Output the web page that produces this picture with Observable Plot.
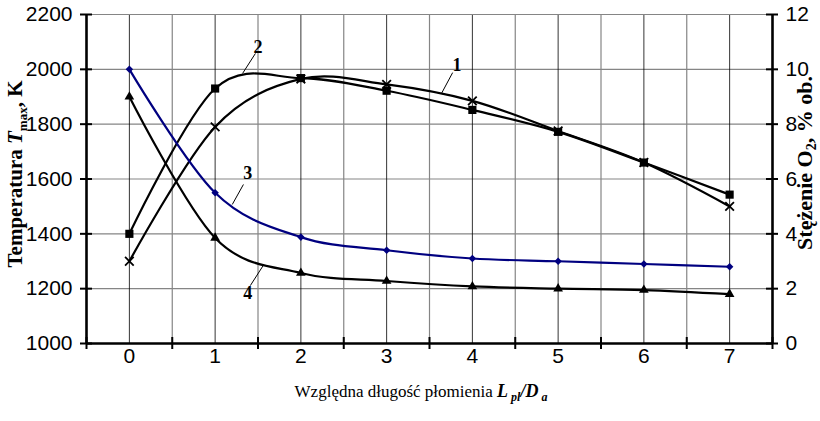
<!DOCTYPE html>
<html><head><meta charset="utf-8">
<script src="https://cdn.jsdelivr.net/npm/d3@7"></script>
<script src="https://cdn.jsdelivr.net/npm/@observablehq/plot@0.6"></script>
<style>body{margin:0;background:#fff} svg{display:block}</style>
</head><body><div id="chart"></div>
<script>
// ---- data ----
const categories = [0, 1, 2, 3, 4, 5, 6, 7];
const xTickLabels = ["0", "1", "2", "3", "4", "5", "6", "7"];
const tempTicks = [1000, 1200, 1400, 1600, 1800, 2000, 2200];
const o2Ticks = [0, 2, 4, 6, 8, 10, 12];
// curve 1 (x markers) and 2 (squares): temperature, K (left axis)
const series1 = [1300, 1790, 1965, 1945, 1885, 1775, 1660, 1500];
const series2 = [1400, 1930, 1968, 1922, 1852, 1772, 1660, 1543];
// curve 3 (blue diamonds) and 4 (triangles): O2 concentration, % (right axis)
const series3 = [10, 5.5, 3.88, 3.4, 3.1, 3.0, 2.9, 2.8];
const series4 = [9, 3.85, 2.57, 2.28, 2.08, 2.0, 1.95, 1.8];
// curve number labels with leader lines
const curveLabels = [
  {label: "1", x: 3.82, y: 2014, x1: 3.77, y1: 1988, x2: 3.64, y2: 1912},
  {label: "2", x: 1.50, y: 2080, x1: 1.47, y1: 2058, x2: 1.32, y2: 1985},
  {label: "3", x: 1.38, y: 1620, x1: 1.33, y1: 1580, x2: 1.20, y2: 1507},
  {label: "4", x: 1.38, y: 1182, x1: 1.41, y1: 1211, x2: 1.56, y2: 1284}
];

// ---- mapping of the right axis onto the left one ----
const tMin = tempTicks[0], tMax = tempTicks[tempTicks.length - 1];
const oMin = o2Ticks[0], oMax = o2Ticks[o2Ticks.length - 1];
const o2ToT = v => tMin + (v - oMin) * (tMax - tMin) / (oMax - oMin);

const rows = [];
categories.forEach((c, i) => {
  rows.push({s: "1", x: c, y: series1[i]});
  rows.push({s: "2", x: c, y: series2[i]});
  rows.push({s: "3", x: c, y: o2ToT(series3[i])});
  rows.push({s: "4", x: c, y: o2ToT(series4[i])});
});
const bySeries = k => rows.filter(r => r.s === k);
const boundaries = categories.map(c => c + 0.5).concat([categories[0] - 0.5]);
const innerBounds = categories.slice(0, -1).map(c => c + 0.5);
const xDomain = [categories[0] - 0.5, categories[categories.length - 1] + 0.5];
const curve = d3.curveCardinal.tension(0);
const navy = "#000080";
const tickFont = "Liberation Sans, Arial, sans-serif";

const chart = Plot.plot({
  width: 820, height: 421,
  marginLeft: 86, marginRight: 48, marginTop: 14, marginBottom: 78,
  style: {fontFamily: tickFont, fontSize: "21px", background: "#fff", color: "#000"},
  x: {type: "linear", domain: xDomain},
  y: {domain: [tMin, tMax]},
  marks: [
    Plot.ruleY(tempTicks.slice(1), {stroke: "#858585", strokeWidth: 1.2}),
    Plot.ruleX(innerBounds, {stroke: "#858585", strokeWidth: 1.2}),
    Plot.ruleX(categories, {stroke: "#000", strokeWidth: 0.8}),
    // curves
    Plot.line(bySeries("1"), {x: "x", y: "y", curve, stroke: "#000", strokeWidth: 2.2}),
    Plot.line(bySeries("2"), {x: "x", y: "y", curve, stroke: "#000", strokeWidth: 2.2}),
    Plot.line(bySeries("3"), {x: "x", y: "y", curve, stroke: navy, strokeWidth: 2.2}),
    Plot.line(bySeries("4"), {x: "x", y: "y", curve, stroke: "#000", strokeWidth: 2.2}),
    Plot.dot(bySeries("1"), {x: "x", y: "y", symbol: "times", r: 4, stroke: "#000", strokeWidth: 1.8}),
    Plot.dot(bySeries("2"), {x: "x", y: "y", symbol: "square", r: 4.6, fill: "#000", stroke: null}),
    Plot.dot(bySeries("3"), {x: "x", y: "y", symbol: "diamond2", r: 3.4, fill: navy, stroke: null}),
    Plot.dot(bySeries("4"), {x: "x", y: "y", symbol: "triangle", r: 3.6, fill: "#000", stroke: null}),
    // curve labels
    Plot.link(curveLabels, {x1: "x1", y1: "y1", x2: "x2", y2: "y2", stroke: "#000", strokeWidth: 1}),
    Plot.text(curveLabels, {x: "x", y: "y", text: "label", fontFamily: "Liberation Serif, Times New Roman, serif", fontWeight: "bold", fontSize: 18}),
    // axis lines
    Plot.ruleY([tMax], {stroke: "#858585", strokeWidth: 1.2}),
    Plot.ruleX([xDomain[0], xDomain[1]], {stroke: "#000", strokeWidth: 2.6}),
    Plot.ruleY([tMin], {stroke: "#000", strokeWidth: 2.6}),
    // crossing tick marks
    Plot.ruleY(tempTicks, {x1: xDomain[0], x2: xDomain[0], insetLeft: -6, insetRight: -6, stroke: "#000", strokeWidth: 2}),
    Plot.ruleY(tempTicks, {x1: xDomain[1], x2: xDomain[1], insetLeft: -6, insetRight: -6, stroke: "#000", strokeWidth: 2}),
    Plot.ruleX(boundaries, {y1: tMin, y2: tMin, insetTop: -6, insetBottom: -6, stroke: "#000", strokeWidth: 2}),
    // tick labels
    Plot.axisY({ticks: tempTicks, tickSize: 0, tickPadding: 14, label: null, tickFormat: t => String(t)}),
    Plot.axisY({anchor: "right", ticks: tempTicks, tickSize: 0, tickPadding: 13, label: null,
      tickFormat: t => String(o2Ticks[tempTicks.indexOf(t)])}),
    Plot.axisX({ticks: categories, tickSize: 0, tickPadding: 5, label: null,
      tickFormat: c => xTickLabels[categories.indexOf(c)]})
  ]
});
document.getElementById("chart").append(chart);

// ---- axis titles with sub/superscripts ----
const svg = d3.select(chart);
const serif = "Liberation Serif, Times New Roman, serif";
const lt = svg.append("text").attr("transform", "translate(22,174) rotate(-90)")
  .attr("text-anchor", "middle").attr("font-family", serif).attr("font-weight", "bold").attr("font-size", 21).attr("fill", "#000");
lt.append("tspan").text("Temperatura ");
lt.append("tspan").attr("font-style", "italic").text("T");
lt.append("tspan").attr("font-size", 13).attr("dy", 5).text("max");
lt.append("tspan").attr("dy", -5).text(", K");

const rt = svg.append("text").attr("transform", "translate(812,163) rotate(-90)")
  .attr("text-anchor", "middle").attr("font-family", serif).attr("font-weight", "bold").attr("font-size", 22).attr("fill", "#000");
rt.append("tspan").text("Stężenie O");
rt.append("tspan").attr("font-size", 14).attr("dy", 4).text("2");
rt.append("tspan").attr("dy", -4).text(", % ob.");

const bt = svg.append("text").attr("x", 421).attr("y", 397)
  .attr("text-anchor", "middle").attr("font-family", serif).attr("font-size", 17).attr("fill", "#000");
bt.append("tspan").text("Względna długość płomienia ");
bt.append("tspan").attr("font-weight", "bold").attr("font-style", "italic").attr("font-size", 18).text("L");
bt.append("tspan").attr("font-weight", "bold").attr("font-style", "italic").attr("font-size", 12).attr("dy", 4).text(" pl");
bt.append("tspan").attr("font-weight", "bold").attr("font-style", "italic").attr("font-size", 18).attr("dy", -4).text("/D");
bt.append("tspan").attr("font-weight", "bold").attr("font-style", "italic").attr("font-size", 12).attr("dy", 4).text(" a");
</script>
</body></html>
